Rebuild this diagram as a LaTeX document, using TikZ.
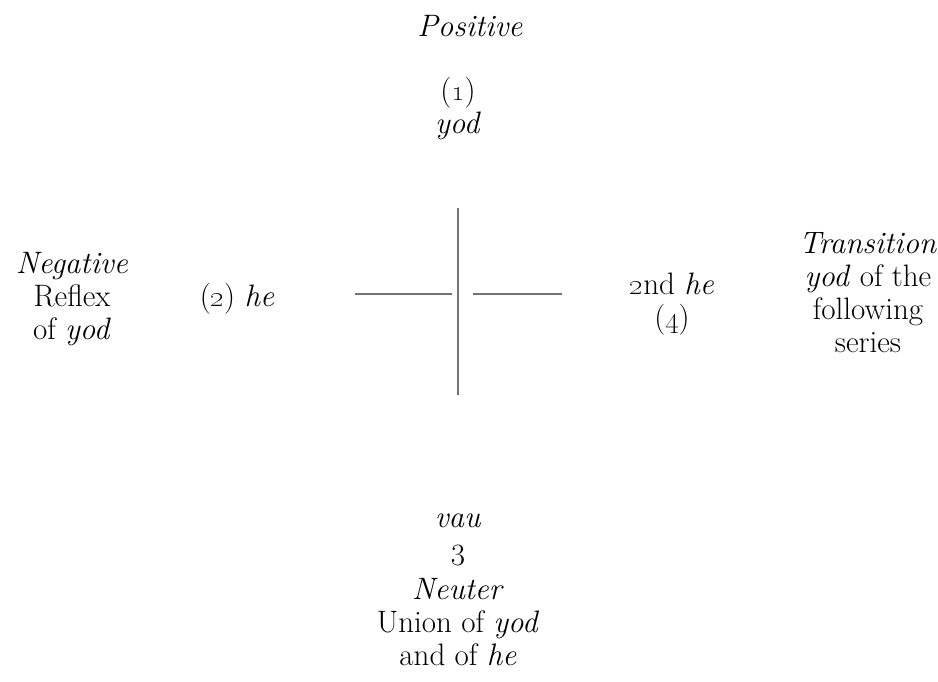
\documentclass[tikz,border=0pt]{standalone}
\begin{document}
\begin{tikzpicture}[x=1pt,y=-1pt,
  lbl/.style={inner sep=0pt,align=center,font=\fontsize{31}{33}\selectfont},
  crossline/.style={draw=black!55,line width=1.8pt}]
\useasboundingbox (0,0) rectangle (938,682);
% top (anchor=base is the baseline of the last line)
\node[lbl,anchor=base] (pos) at (470,37) {\textit{Positive}};
\node[lbl,anchor=base] (one) at (458,134) {(\oldstylenums{1})\\\textit{yod}};
% left
\node[lbl,anchor=base] (neg) at (72,339) {\textit{Negative}\\Reflex\\of \textit{yod}};
\node[lbl,anchor=base] (two) at (237,306) {(\oldstylenums{2})~\textit{he}};
% right
\node[lbl,anchor=base] (four) at (672,327) {\oldstylenums{2}nd \textit{he}\\(\oldstylenums{4})};
\node[lbl,anchor=base] (trans) at (868,352) {\textit{Transition}\\\textit{yod} of the\\following\\series};
% bottom
\node[lbl,anchor=base] (vau) at (458,527) {\textit{vau}};
\node[lbl,anchor=base] (three) at (458,565) {3};
\node[lbl,anchor=base] (neut) at (458,665) {\textit{Neuter}\\Union of \textit{yod}\\and of \textit{he}};
% cross
\coordinate (ct) at (458,208);
\coordinate (cb) at (458,395);
\coordinate (cl1) at (355,294);
\coordinate (cl2) at (452,294);
\coordinate (cr1) at (473,294);
\coordinate (cr2) at (562,294);
\draw[crossline] (ct) -- (cb);
\draw[crossline] (cl1) -- (cl2);
\draw[crossline] (cr1) -- (cr2);
\end{tikzpicture}
\end{document}
